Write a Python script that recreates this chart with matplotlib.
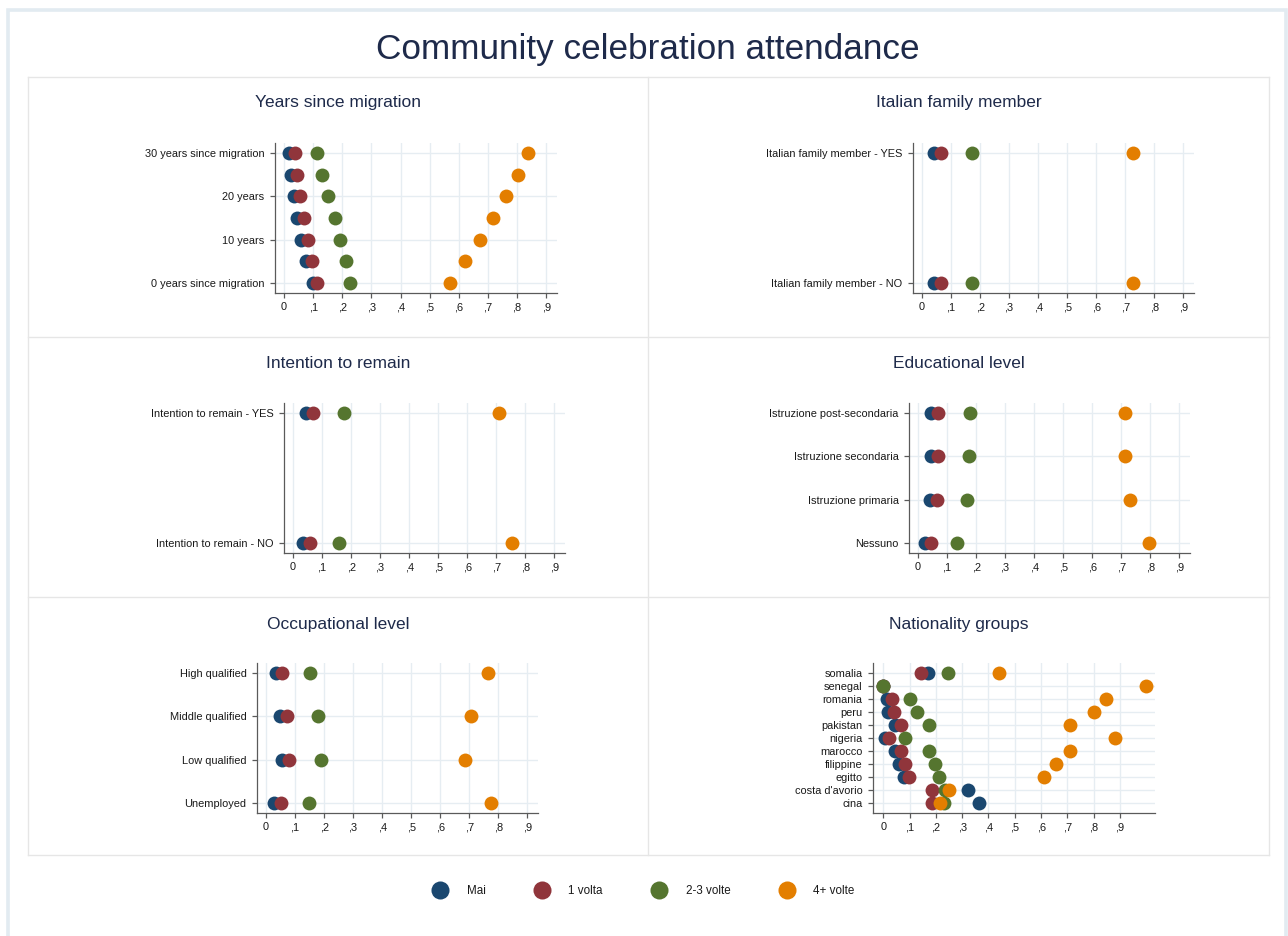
import matplotlib
matplotlib.use("Agg")
import matplotlib.pyplot as plt
from matplotlib.lines import Line2D

# ---- data -------------------------------------------------------------
series_names = ["Mai", "1 volta", "2-3 volte", "4+ volte"]
series_colors = ["#1a476f", "#90353b", "#55752f", "#e37e00"]

xtick_values = [0, 0.1, 0.2, 0.3, 0.4, 0.5, 0.6, 0.7, 0.8, 0.9]
xtick_labels = ["0", ",1", ",2", ",3", ",4", ",5", ",6", ",7", ",8", ",9"]

years_cats = ["30 years since migration", "", "20 years", "", "10 years", "",
              "0 years since migration"]
years_mai = [0.017, 0.025, 0.033, 0.045, 0.059, 0.077, 0.099]
years_1v = [0.037, 0.046, 0.056, 0.067, 0.082, 0.097, 0.113]
years_23v = [0.113, 0.132, 0.152, 0.174, 0.193, 0.212, 0.228]
years_4v = [0.839, 0.803, 0.763, 0.719, 0.671, 0.622, 0.568]

family_cats = ["Italian family member - YES", "Italian family member - NO"]
family_mai = [0.042, 0.042]
family_1v = [0.067, 0.067]
family_23v = [0.172, 0.171]
family_4v = [0.726, 0.726]

remain_cats = ["Intention to remain - YES", "Intention to remain - NO"]
remain_mai = [0.046, 0.034]
remain_1v = [0.069, 0.057]
remain_23v = [0.175, 0.158]
remain_4v = [0.711, 0.753]

edu_cats = ["Istruzione post-secondaria", "Istruzione secondaria",
            "Istruzione primaria", "Nessuno"]
edu_mai = [0.046, 0.046, 0.040, 0.024]
edu_1v = [0.070, 0.070, 0.066, 0.046]
edu_23v = [0.178, 0.176, 0.169, 0.136]
edu_4v = [0.713, 0.713, 0.730, 0.797]

occ_cats = ["High qualified", "Middle qualified", "Low qualified", "Unemployed"]
occ_mai = [0.033, 0.048, 0.056, 0.029]
occ_1v = [0.056, 0.073, 0.079, 0.053]
occ_23v = [0.152, 0.180, 0.188, 0.147]
occ_4v = [0.765, 0.706, 0.685, 0.776]

nat_cats = ["somalia", "senegal", "romania", "peru", "pakistan", "nigeria",
            "marocco", "filippine", "egitto", "costa d'avorio", "cina"]
nat_mai = [0.169, 0.0, 0.013, 0.019, 0.044, 0.006, 0.044, 0.061, 0.079, 0.323, 0.364]
nat_1v = [0.143, 0.0, 0.032, 0.041, 0.066, 0.023, 0.066, 0.082, 0.096, 0.184, 0.186]
nat_23v = [0.248, 0.0, 0.101, 0.129, 0.172, 0.081, 0.172, 0.195, 0.212, 0.236, 0.231]
nat_4v = [0.439, 1.0, 0.847, 0.801, 0.710, 0.881, 0.710, 0.655, 0.612, 0.251, 0.215]

# ---- figure -----------------------------------------------------------
W, H = 1288, 936
fig = plt.figure(figsize=(W / 100, H / 100), dpi=100)
fig.patch.set_facecolor("white")
plt.rcParams["font.family"] = ["Liberation Sans", "DejaVu Sans"]

NAVY_TEXT = "#1e2a4a"
GRID = "#e6edf2"
AXIS = "#5a5a5a"
TICK_SIZE = 7.9


def fig_line(xs, ys, **kw):
    fig.add_artist(Line2D([x / W for x in xs], [1 - y / H for y in ys],
                          transform=fig.transFigure, **kw))


# outer frame (open at the bottom)
fig_line([8, 8, 1286, 1286], [936, 10, 10, 936], color="#e2ebf1", lw=2.6,
         solid_joinstyle="miter")

# panel cells
col_edges = [28, 648, 1269]
row_edges = [77, 337, 597, 855]
cell_kw = dict(color="#e6e6e6", lw=1.0)
for x in col_edges:
    fig_line([x, x], [row_edges[0], row_edges[-1]], **cell_kw)
for y in row_edges:
    fig_line([col_edges[0], col_edges[-1]], [y, y], **cell_kw)

fig.text(648 / W, 1 - 49 / H, "Community celebration attendance",
         ha="center", va="center", fontsize=25.3, color=NAVY_TEXT)


def panel(title, box, cats, values, xlim, title_y, cell_cx):
    left, top, right, bottom = box
    ax = fig.add_axes([left / W, 1 - bottom / H, (right - left) / W,
                       (bottom - top) / H])
    n = len(cats)
    ypos = [n - 1 - i for i in range(n)]
    pad = (n - 1) * 10.0 / 130.0
    for vals, color in zip(values, series_colors):
        ax.scatter(vals, ypos, s=100, color=color, linewidths=0, zorder=3,
                   clip_on=False)
    ax.set_xlim(*xlim)
    ax.set_ylim(-pad, n - 1 + pad)
    ax.set_xticks(xtick_values)
    ax.set_xticklabels(xtick_labels)
    tick_pos = [p for p, c in zip(ypos, cats) if c]
    tick_lab = [c for c in cats if c]
    ax.set_yticks(tick_pos)
    ax.set_yticklabels(tick_lab)
    ax.grid(True, color=GRID, lw=1.0)
    ax.set_axisbelow(True)
    for s in ("top", "right"):
        ax.spines[s].set_visible(False)
    for s in ("left", "bottom"):
        ax.spines[s].set_color(AXIS)
        ax.spines[s].set_linewidth(0.9)
    ax.tick_params(axis="both", colors=AXIS, labelcolor="#1a1a1a",
                   labelsize=TICK_SIZE, length=3.5, width=0.9, pad=3)
    ax.tick_params(axis="y", pad=4)
    ax.set_facecolor("white")
    fig.text(cell_cx / W, 1 - title_y / H, title, ha="center", va="center",
             fontsize=12.5, color=NAVY_TEXT)
    return ax


std_xlim = (-0.031, 0.937)
left_cx = (col_edges[0] + col_edges[1]) / 2
right_cx = (col_edges[1] + col_edges[2]) / 2

panel("Years since migration", (275, 143, 557, 293), years_cats,
      [years_mai, years_1v, years_23v, years_4v], std_xlim, 103, left_cx)
panel("Italian family member", (913, 143, 1194, 293), family_cats,
      [family_mai, family_1v, family_23v, family_4v], std_xlim, 103, right_cx)
panel("Intention to remain", (284, 403, 565, 553), remain_cats,
      [remain_mai, remain_1v, remain_23v, remain_4v], std_xlim, 364, left_cx)
panel("Educational level", (909, 403, 1190, 553), edu_cats,
      [edu_mai, edu_1v, edu_23v, edu_4v], std_xlim, 364, right_cx)
panel("Occupational level", (257, 663, 538, 813), occ_cats,
      [occ_mai, occ_1v, occ_23v, occ_4v], std_xlim, 624, left_cx)
panel("Nationality groups", (873, 663, 1155, 813), nat_cats,
      [nat_mai, nat_1v, nat_23v, nat_4v], (-0.039, 1.033), 624, right_cx)

# legend
handles = [Line2D([], [], ls="none", marker="o", markersize=13,
                  markerfacecolor=c, markeredgewidth=0) for c in series_colors]
fig.legend(handles, series_names, loc="center", ncol=4, frameon=False,
           bbox_to_anchor=(643 / W, 1 - 891 / H), fontsize=8.4,
           handlelength=1.5, handletextpad=1.55, columnspacing=4.05,
           labelcolor="#1a1a1a")

fig.savefig("out.png", dpi=100, facecolor="white")
